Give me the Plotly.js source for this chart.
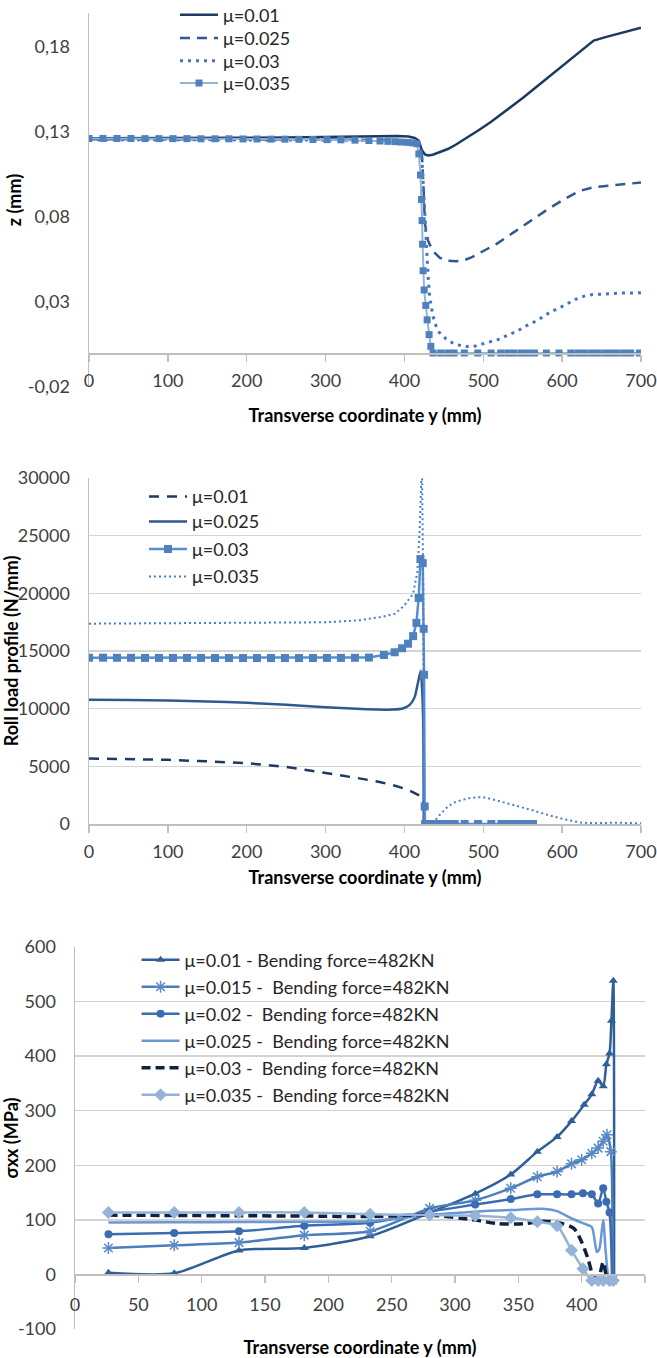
<!DOCTYPE html>
<html><head><meta charset="utf-8">
<script src="https://cdn.plot.ly/plotly-3.0.1.min.js"></script>
<style>
html,body{margin:0;padding:0;background:#fff;}
.ch{position:absolute;left:0;width:657px;}
#c1{top:0;height:430px;}
#c2{top:440px;height:460px;}
#c3{top:920px;height:438px;}
</style></head><body>
<div id="c1" class="ch"></div><div id="c2" class="ch"></div><div id="c3" class="ch"></div>
<script>
// ================= DATA =================
// ---- Chart 1 : z (mm) vs transverse coordinate y (mm)
const c1Names = ['μ=0.01', 'μ=0.025', 'μ=0.03', 'μ=0.035'];
const c1_x_001 = [0, 50, 100, 150, 200, 250, 300, 350, 390, 405, 413, 418, 422, 426, 430, 436, 445, 455, 465, 475, 485, 495, 510, 530, 550, 570, 590, 610, 630, 640, 655, 670, 685, 700];
const c1_z_001 = [0.1263, 0.1263, 0.1264, 0.1265, 0.1266, 0.1268, 0.1272, 0.1276, 0.1277, 0.1273, 0.1265, 0.1250, 0.1195, 0.1168, 0.1162, 0.1166, 0.1180, 0.1200, 0.1225, 0.1253, 0.1283, 0.1313, 0.1360, 0.1428, 0.1500, 0.1575, 0.1650, 0.1725, 0.1800, 0.1838, 0.1858, 0.1876, 0.1895, 0.1913];
const c1_x_0025 = [0, 100, 200, 300, 380, 410, 418, 422, 424, 426, 430, 436, 445, 455, 465, 475, 485, 496, 517, 538, 559, 580, 601, 622, 640, 660, 680, 700];
const c1_z_0025 = [0.1258, 0.1258, 0.1258, 0.1256, 0.1252, 0.1245, 0.1238, 0.118, 0.100, 0.0760, 0.0660, 0.0600, 0.0560, 0.0543, 0.0540, 0.0545, 0.0562, 0.0590, 0.0642, 0.0708, 0.0775, 0.0840, 0.0900, 0.0953, 0.0975, 0.0985, 0.0993, 0.1003];
const c1_x_003 = [0, 100, 200, 300, 380, 410, 418, 422, 425, 428, 430, 432, 436, 440, 444, 453, 464, 476, 487, 498, 508, 521, 531, 542, 553, 564, 575, 585, 596, 606, 617, 629, 639, 652, 665, 677, 690, 700];
const c1_z_003 = [0.1255, 0.1255, 0.1255, 0.1253, 0.1249, 0.1242, 0.1235, 0.115, 0.090, 0.060, 0.045, 0.033, 0.022, 0.016, 0.0122, 0.0082, 0.0052, 0.0039, 0.0037, 0.0052, 0.0066, 0.0082, 0.0106, 0.0126, 0.0157, 0.0181, 0.0211, 0.0241, 0.0264, 0.0290, 0.0316, 0.0336, 0.0344, 0.0346, 0.0350, 0.0353, 0.0353, 0.0355];
const c1_x_0035 = [0, 17.75, 35.5, 53.25, 71, 88.75, 106.5, 124.25, 142, 159.75, 177.5, 195.25, 213, 230.75, 248.5, 266.25, 284, 301.75, 319.5, 337.25, 355,
  369, 379, 388, 396, 404, 410.6, 415.7,
  418.3, 420.4, 421.7, 422.4, 423, 423.7, 425, 427.1, 428.8, 431.3, 433.5, 436.4,
  446, 455, 463, 476, 493, 510, 522, 531, 539, 548, 556, 565, 580, 596, 611, 620, 628, 637, 645, 654, 662, 670, 679, 687, 698];
const c1_z_0035 = [0.1262, 0.1262, 0.1262, 0.1262, 0.1261, 0.1261, 0.1261, 0.1261, 0.1260, 0.1260, 0.1260, 0.1259, 0.1259, 0.1258, 0.1258, 0.1257, 0.1256, 0.1255, 0.1254, 0.1252, 0.1250,
  0.1247, 0.1245, 0.1243, 0.1241, 0.1239, 0.1236, 0.1231,
  0.1171, 0.1047, 0.0903, 0.0779, 0.0640, 0.0484, 0.0371, 0.0280, 0.0195, 0.0108, 0.0039, 0.0,
  0, 0, 0, 0, 0, 0, 0, 0, 0, 0, 0, 0, 0, 0, 0, 0, 0, 0, 0, 0, 0, 0, 0, 0, 0];
const c1_yTicks = [-0.02, 0.03, 0.08, 0.13, 0.18];
const c1_yTickText = ['-0,02', '0,03', '0,08', '0,13', '0,18'];
const c1_gridTicks = [0.03, 0.08, 0.13, 0.18];

// ---- Chart 2 : roll load profile (N/mm)
const c2Names = ['μ=0.01', 'μ=0.025', 'μ=0.03', 'μ=0.035'];
const c2_x_001 = [0, 50, 100, 150, 200, 250, 300, 340, 370, 390, 405, 415, 421, 424, 426];
const c2_p_001 = [5680, 5620, 5560, 5430, 5270, 4950, 4450, 3990, 3620, 3280, 2950, 2640, 2400, 2250, 0];
const c2_x_0025 = [0, 50, 100, 150, 200, 250, 300, 340, 365, 385, 398, 407, 413, 417, 420.7, 422.8, 424, 424.6];
const c2_p_0025 = [10770, 10750, 10710, 10620, 10510, 10330, 10130, 9990, 9930, 9920, 10020, 10350, 11000, 12200, 13290, 11110, 8200, 0];
const c2_x_003 = [0, 17.75, 35.5, 53.25, 71, 88.75, 106.5, 124.25, 142, 159.75, 177.5, 195.25, 213, 230.75, 248.5, 266.25, 284, 301.75, 319.5, 337.25, 355,
  374, 387.7, 397, 404.6, 411, 415.2, 418.1, 420.3, 423.2, 424.4, 424.9, 425.7,
  426.2, 430, 438.4, 446.9, 455.4, 463.8, 476.4, 493.4, 510.2, 523, 531, 539, 548, 556, 563];
const c2_p_003 = [14420, 14420, 14410, 14410, 14400, 14400, 14400, 14400, 14400, 14390, 14390, 14390, 14390, 14390, 14390, 14390, 14390, 14400, 14400, 14410, 14430,
  14650, 14890, 15240, 15630, 16290, 17440, 19600, 22970, 22620, 16920, 12940, 1520,
  0, 0, 0, 0, 0, 0, 0, 0, 0, 0, 0, 0, 0, 0, 0];
const c2_x_0035 = [0, 100, 200, 300, 340, 371, 388, 400, 411, 416.4, 419.4, 421.5, 422.2, 423, 424, 424.6, 430, 436, 442.6, 448, 455, 463, 472, 483, 493, 504, 514, 527, 540, 561, 582, 603, 624, 640, 668, 700];
const c2_p_0035 = [17370, 17400, 17430, 17490, 17650, 17950, 18230, 18960, 19970, 21860, 25640, 29860, 31500, 26000, 20000, 0, 0, 0, 640, 1050, 1510, 1850, 2070, 2250, 2330, 2280, 2090, 1880, 1660, 1220, 785, 410, 120, 70, 110, 60];

// ---- Chart 3 : sigma xx (MPa)
const c3Names = ['μ=0.01 - Bending force=482KN', 'μ=0.015 -  Bending force=482KN', 'μ=0.02 -  Bending force=482KN',
  'μ=0.025 -  Bending force=482KN', 'μ=0.03 -  Bending force=482KN', 'μ=0.035 -  Bending force=482KN'];
const c3_x_001 = [26.4, 78.3, 129.5, 181, 233, 280, 316, 344, 365, 380.6, 392, 402, 408, 413, 417, 419.5, 422, 423.5, 425, 425.6];
const c3_s_001 = [3, 2, 44, 48.5, 70, 113, 148, 183, 225, 252, 281, 311, 330, 355, 345, 385, 405, 465, 538, -10];
const c3_x_0015 = [26.4, 78.3, 129.5, 181, 233, 280, 316, 344, 365, 380.6, 392, 400, 408, 413, 417, 420, 423, 424.5];
const c3_s_0015 = [48.5, 53.4, 58.3, 72, 79, 121, 136, 158, 179, 188.5, 202.6, 210, 222, 231.5, 244, 256, 225, -10];
const c3_x_002 = [26.4, 78.3, 129.5, 181, 233, 280, 316, 344, 365, 380.6, 392, 401, 408, 413, 417, 419.5, 422, 424];
const c3_s_002 = [73.7, 76, 79, 89, 94.6, 115, 128, 138, 146.8, 146.8, 146.8, 148.6, 146.8, 130, 157.8, 133, 113.6, -10];
const c3_x_0025 = [26.4, 78.3, 129.5, 181, 233, 280, 316, 344, 371, 380.6, 392, 402, 408, 412, 414, 417, 419, 422, 427];
const c3_s_0025 = [95, 95.5, 96, 96.5, 97.6, 108.7, 115, 118, 120, 116, 102.5, 93, 87, 41, 47, 99.5, 41, -8, -8];
const c3_x_003 = [26.4, 78.3, 129.5, 181, 233, 280, 316, 334, 354, 371, 385, 394, 400, 405, 409, 413, 417, 419.5, 422, 427];
const c3_s_003 = [108.7, 108, 107.5, 107, 106, 108.7, 99.5, 93, 93, 97.6, 93, 84, 59.6, 28.9, -1.8, -8, 22.7, -1.8, -8, -8];
const c3_x_0035 = [26.4, 78.3, 129.5, 181, 233, 280, 316, 344, 365, 380.6, 392, 401, 408, 413, 417, 422, 425];
const c3_s_0035 = [113.6, 113.6, 113.6, 113.6, 110.5, 108.7, 107.5, 103.8, 96.4, 89, 44.2, 10.4, -11, -11, -11, -11, -11];
const c3_yTicks = [-100, 0, 100, 200, 300, 400, 500, 600];
const c3_yTickText = ['-100', '0', '100', '200', '300', '400', '500', '600'];

// ================= STYLE / LAYOUT =================
const FONT = 'Lato, "Open Sans", "DejaVu Sans", sans-serif';
const TXT = '#262626';
const TICKC = '#404040';
const LINEC = '#bfbfbf';
const GRIDC = '#d3d3d3';

function leg(x, y, size) {
  return {visible: true, x: x, y: y, xanchor: 'left', yanchor: 'middle', bgcolor: 'rgba(0,0,0,0)', borderwidth: 0,
    font: {family: FONT, size: size, color: TXT}, itemwidth: 38, tracegroupgap: 0};
}
function axTitle(text, standoff) {
  return {text: text, standoff: standoff, font: {family: FONT, size: 18, color: '#000', weight: 'bold'}};
}
const baseX = {showgrid: false, zeroline: false, showline: true, linecolor: LINEC, linewidth: 1.5,
  ticks: 'outside', ticklen: 7, tickwidth: 1.5, tickcolor: LINEC, tickfont: {family: FONT, size: 18, color: TICKC}};
const baseY = {zeroline: false, showline: true, linecolor: LINEC, linewidth: 1.5, ticks: '',
  showgrid: true, gridcolor: GRIDC, gridwidth: 1.5, tickfont: {family: FONT, size: 18, color: TICKC}};
const cfg = {staticPlot: true, displayModeBar: false};

// ---- Chart 1
const t1 = [
  {x: c1_x_001, y: c1_z_001, name: c1Names[0], mode: 'lines', line: {color: '#1f3a60', width: 2.5}, legend: 'legend', showlegend: true},
  {x: c1_x_0025, y: c1_z_0025, name: c1Names[1], mode: 'lines', line: {color: '#2f5a8f', width: 2.5, dash: '10px,7px'}, legend: 'legend2'},
  {x: c1_x_003, y: c1_z_003, name: c1Names[2], mode: 'lines', line: {color: '#4472c4', width: 3, dash: '3px,5px'}, legend: 'legend3'},
  {x: c1_x_0035, y: c1_z_0035, name: c1Names[3], mode: 'lines+markers', line: {color: '#95b3d7', width: 2},
    marker: {symbol: 'square', size: 7, color: '#4f81bd'}, legend: 'legend4'}
];
const L1 = {
  width: 657, height: 430, margin: {l: 89, r: 16, t: 13, b: 43, autoexpand: false},
  paper_bgcolor: '#fff', plot_bgcolor: 'rgba(0,0,0,0)', separators: ', ', showlegend: true,
  font: {family: FONT, size: 18, color: TXT},
  xaxis: Object.assign({}, baseX, {range: [0, 700], tick0: 0, dtick: 100, anchor: 'free', position: 0.0909,
    ticklabelstandoff: 4, title: axTitle('Transverse coordinate y (mm)', 19)}),
  yaxis: Object.assign({}, baseY, {range: [-0.02, 0.2], tickvals: c1_yTicks, ticktext: c1_yTickText, showgrid: false,
    ticklabelstandoff: 14, title: axTitle('z (mm)', 1)}),
  yaxis2: {overlaying: 'y', range: [-0.02, 0.2], tickvals: c1_gridTicks, showticklabels: false, showgrid: true,
    gridcolor: GRIDC, gridwidth: 1.5, zeroline: false, showline: false, ticks: ''},
  legend: leg(0.1558, 0.9947, 18), legend2: leg(0.1558, 0.9324, 18),
  legend3: leg(0.1558, 0.8717, 18), legend4: leg(0.1558, 0.812, 18)
};
Plotly.newPlot('c1', t1, L1, cfg);

// ---- Chart 2
const t2 = [
  {x: c2_x_001, y: c2_p_001, name: c2Names[0], mode: 'lines', line: {color: '#1f3a60', width: 2.5, dash: '10px,8px'}, legend: 'legend', showlegend: true},
  {x: c2_x_0025, y: c2_p_0025, name: c2Names[1], mode: 'lines', line: {color: '#2f5a8f', width: 2.5, shape: 'spline', smoothing: 0.6}, legend: 'legend2'},
  {x: c2_x_003, y: c2_p_003, name: c2Names[2], mode: 'lines+markers', line: {color: '#558ed5', width: 2.5},
    marker: {symbol: 'square', size: 8, color: '#4f81bd'}, legend: 'legend3'},
  {x: c2_x_0035, y: c2_p_0035, name: c2Names[3], mode: 'lines', line: {color: '#4a7ec8', width: 2, dash: '2px,3px'}, legend: 'legend4'}
];
const L2 = {
  width: 657, height: 460, margin: {l: 89, r: 16, t: 38, b: 76, autoexpand: false},
  paper_bgcolor: '#fff', plot_bgcolor: '#fff', showlegend: true,
  font: {family: FONT, size: 18, color: TXT},
  xaxis: Object.assign({}, baseX, {range: [0, 700], tick0: 0, dtick: 100, ticklabelstandoff: 4,
    title: axTitle('Transverse coordinate y (mm)', 10)}),
  yaxis: Object.assign({}, baseY, {range: [0, 30000], tick0: 0, dtick: 5000, tickformat: 'd',
    ticklabelstandoff: 14, title: axTitle('Roll load profile (N/mm)', 4)}),
  legend: leg(0.0996, 0.946, 18), legend2: leg(0.0996, 0.8737, 18),
  legend3: leg(0.0996, 0.794, 18), legend4: leg(0.0996, 0.7147, 18)
};
Plotly.newPlot('c2', t2, L2, cfg);

// ---- Chart 3
const sp = {shape: 'spline', smoothing: 0.7};
const t3 = [
  {x: c3_x_001, y: c3_s_001, name: c3Names[0], mode: 'lines+markers', line: Object.assign({color: '#2f5f98', width: 2.5}, sp),
    marker: {symbol: 'triangle-up', size: 8, color: '#2f5f98'}, legend: 'legend', showlegend: true},
  {x: c3_x_0015, y: c3_s_0015, name: c3Names[1], mode: 'lines+markers', line: Object.assign({color: '#4a7ebb', width: 2.5}, sp),
    marker: {symbol: 'asterisk-open', size: 10, color: '#5a8ac6', line: {color: '#5a8ac6', width: 1.5}}, legend: 'legend2'},
  {x: c3_x_002, y: c3_s_002, name: c3Names[2], mode: 'lines+markers', line: Object.assign({color: '#3b6bb0', width: 2.5}, sp),
    marker: {symbol: 'circle', size: 8, color: '#3b6bb0'}, legend: 'legend3'},
  {x: c3_x_0025, y: c3_s_0025, name: c3Names[3], mode: 'lines', line: Object.assign({color: '#6a98d4', width: 2.5}, sp), legend: 'legend4'},
  {x: c3_x_003, y: c3_s_003, name: c3Names[4], mode: 'lines', line: Object.assign({color: '#10223f', width: 3.5, dash: '9px,5px'}, sp), legend: 'legend5'},
  {x: c3_x_0035, y: c3_s_0035, name: c3Names[5], mode: 'lines+markers', line: Object.assign({color: '#95b3d7', width: 2.5}, sp),
    marker: {symbol: 'diamond', size: 10, color: '#95b3d7'}, legend: 'legend6'}
];
const L3 = {
  width: 657, height: 438, margin: {l: 75, r: 12, t: 27, b: 29, autoexpand: false},
  paper_bgcolor: '#fff', plot_bgcolor: '#fff', showlegend: true,
  font: {family: FONT, size: 18, color: TXT},
  xaxis: Object.assign({}, baseX, {range: [0, 450], tick0: 0, dtick: 50, anchor: 'free', position: 100 / 700,
    ticklabelstandoff: 6, title: axTitle('Transverse coordinate y (mm)', 30)}),
  yaxis: Object.assign({}, baseY, {range: [-100, 600], tickvals: c3_yTicks, ticktext: c3_yTickText,
    ticklabelstandoff: 14, title: axTitle('σxx (MPa)', 5)}),
  legend: leg(0.108, 0.966, 18), legend2: leg(0.108, 0.8953, 18), legend3: leg(0.108, 0.8246, 18),
  legend4: leg(0.108, 0.7539, 18), legend5: leg(0.108, 0.6832, 18), legend6: leg(0.108, 0.6126, 18)
};
Plotly.newPlot('c3', t3, L3, cfg);
</script>
</body></html>
